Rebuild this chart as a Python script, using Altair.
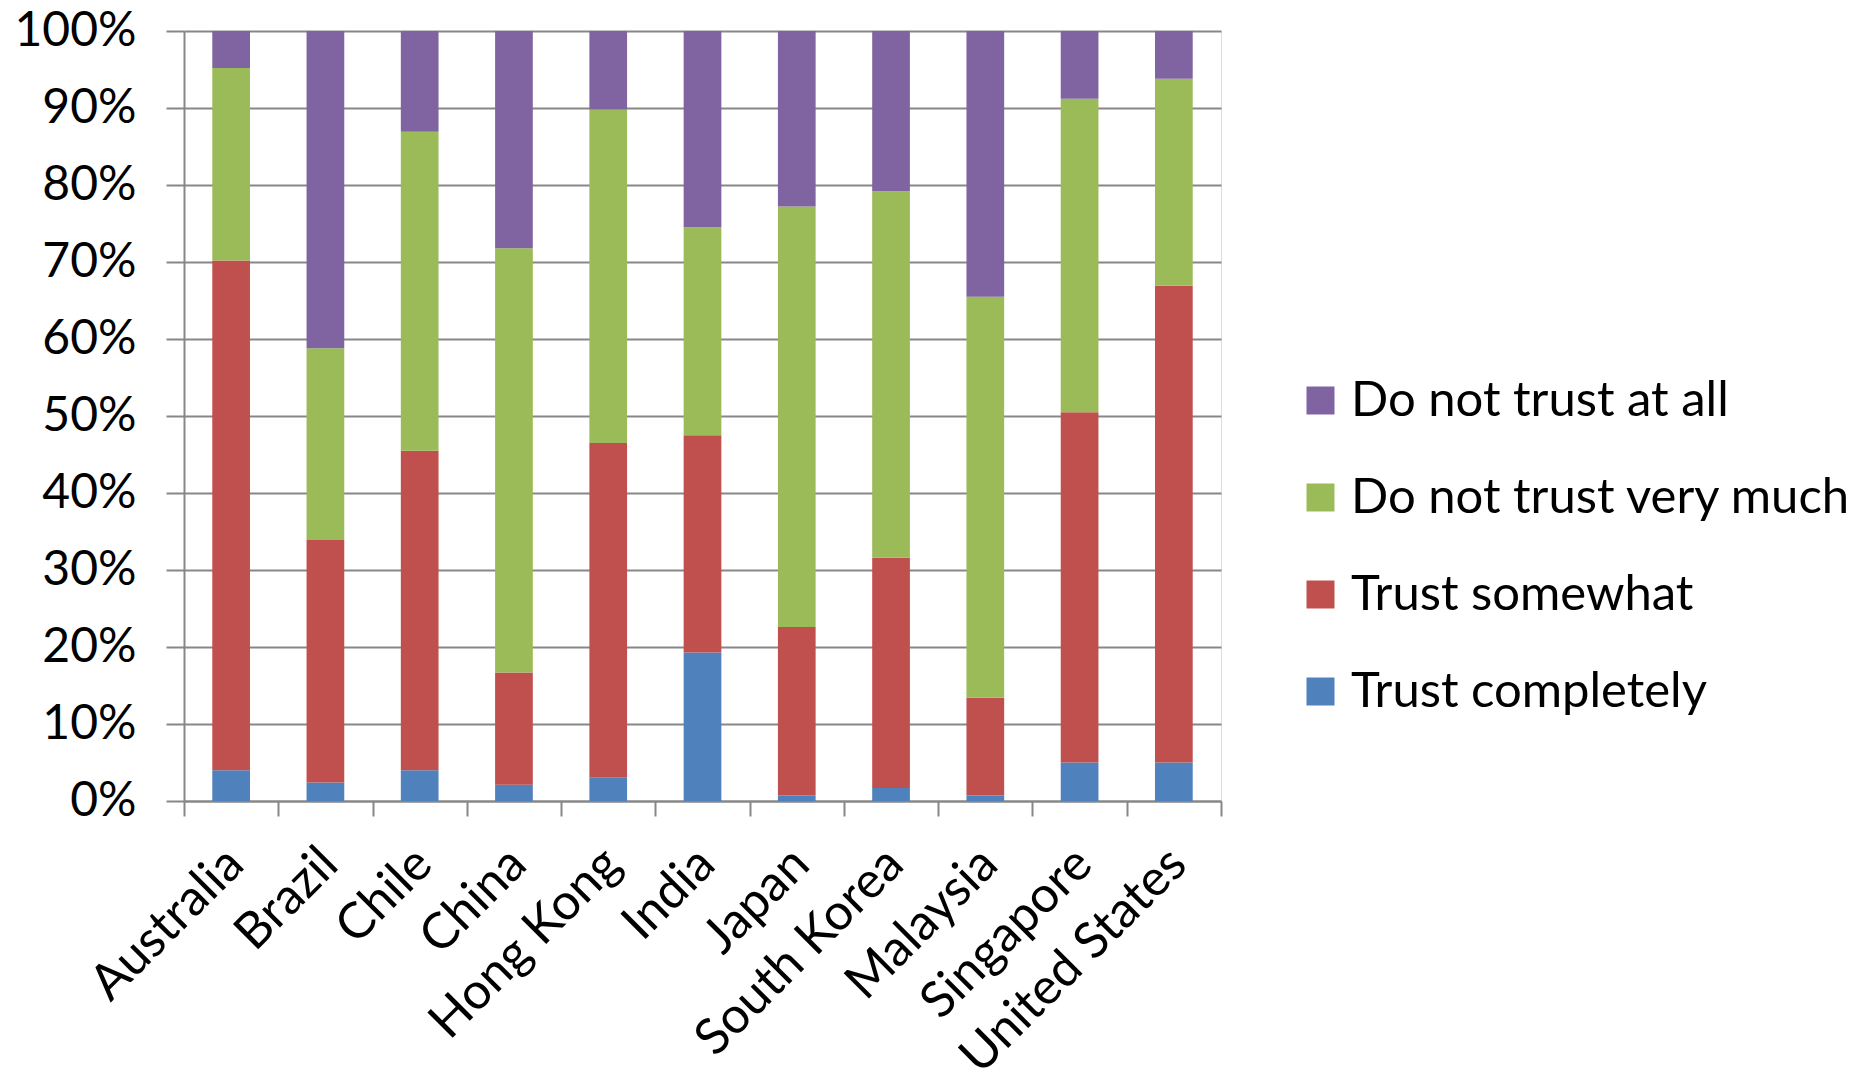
import altair as alt
import pandas as pd

# Survey: how much people trust others, by country (shares of respondents, %)
countries = ["Australia", "Brazil", "Chile", "China", "Hong Kong", "India",
             "Japan", "South Korea", "Malaysia", "Singapore", "United States"]
responses = ["Do not trust at all", "Do not trust very much",
             "Trust somewhat", "Trust completely"]
trust_completely = [4.0, 2.4, 4.0, 2.1, 3.1, 19.3, 0.7, 1.7, 0.7, 5.0, 5.0]
trust_somewhat = [66.2, 31.5, 41.5, 14.6, 43.4, 28.2, 21.9, 29.9, 12.7, 45.5, 61.9]
not_very_much = [25.0, 24.9, 41.4, 55.1, 43.3, 27.0, 54.6, 47.6, 52.1, 40.7, 26.9]
not_at_all = [4.8, 41.2, 13.1, 28.2, 10.2, 25.5, 22.8, 20.8, 34.5, 8.8, 6.2]
colors = ["#8064A2", "#9BBB59", "#C0504D", "#4F81BD"]
y_ticks = [0, 0.1, 0.2, 0.3, 0.4, 0.5, 0.6, 0.7, 0.8, 0.9, 1.0]

series = {
    "Trust completely": trust_completely,
    "Trust somewhat": trust_somewhat,
    "Do not trust very much": not_very_much,
    "Do not trust at all": not_at_all,
}
rows = []
for rank, (resp, vals) in enumerate(series.items()):
    for c, v in zip(countries, vals):
        rows.append({"country": c, "response": resp, "value": v, "rank": rank})
df = pd.DataFrame(rows)

FONT = "Lato"
GRID = "#878787"

chart = alt.Chart(df).mark_bar(width=alt.RelativeBandSize(0.4)).encode(
    x=alt.X("country:N", sort=countries, title=None,
            scale=alt.Scale(paddingInner=0, paddingOuter=0),
            axis=alt.Axis(labelAngle=-45, labelAlign="right", labelBaseline="middle",
                          tickBand="extent", tickSize=15, tickWidth=2, tickColor=GRID,
                          domainColor=GRID, domainWidth=2, labelPadding=40,
                          labelOffset=4,
                          labelFontSize=50, labelFont=FONT, labelColor="#000000",
                          grid=False, labelLimit=0)),
    y=alt.Y("value:Q", stack="normalize", title=None,
            scale=alt.Scale(domain=[0, 1], nice=False),
            axis=alt.Axis(values=y_ticks, format=".0%", tickSize=18, tickWidth=2,
                          tickColor=GRID, domainColor=GRID, domainWidth=2,
                          gridColor=GRID, gridWidth=2, gridOpacity=1,
                          labelPadding=30, labelFontSize=48, labelFont=FONT,
                          labelColor="#000000")),
    color=alt.Color("response:N",
                    scale=alt.Scale(domain=responses, range=colors),
                    legend=alt.Legend(title=None, orient="none", legendX=1112, legendY=345,
                                      symbolType="square", symbolSize=784,
                                      symbolStrokeWidth=0, labelFontSize=49,
                                      labelFont=FONT, labelColor="#000000",
                                      labelOffset=6, rowPadding=47, labelLimit=0)),
    order=alt.Order("rank:Q", sort="ascending"),
).properties(
    width=1037, height=770,
    autosize=alt.AutoSizeParams(type="none"),
    padding={"left": 184, "top": 31, "right": 643, "bottom": 273},
).configure_view(stroke=None).configure(background="white")

chart.save("out.html", embed_options={"renderer": "svg", "actions": False})
